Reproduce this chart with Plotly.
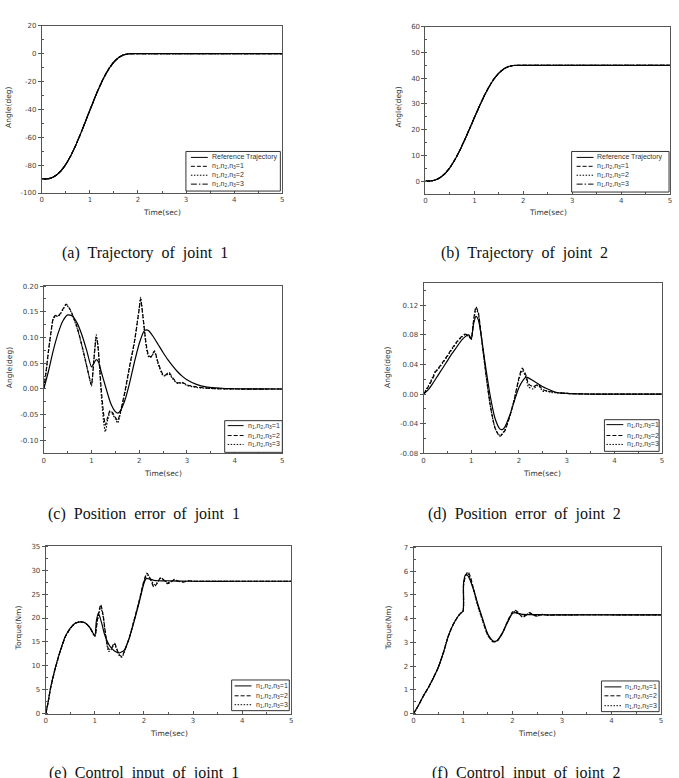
import plotly.graph_objects as go

W, H = 679, 778

# ---------------- data ----------------
# (a)/(b) trajectories (the three controlled responses overlap the reference)
traj_t = [0, 0.1, 0.2, 0.3, 0.4, 0.5, 0.6, 0.7, 0.8, 0.9, 1.0, 1.1, 1.2, 1.3, 1.4,
          1.5, 1.6, 1.7, 1.8, 1.9, 2.0, 3.0, 4.0, 5.0]
joint1_ref = [-90, -89.9, -89.1, -87.2, -84.0, -79.4, -73.4, -66.2, -58.1, -49.4, -40.6,
              -31.9, -23.8, -16.6, -10.6, -6.0, -2.8, -0.9, -0.1, 0, 0, 0, 0, 0]
joint1_n1 = joint1_ref
joint1_n2 = joint1_ref
joint1_n3 = joint1_ref
joint2_ref = [0, 0.06, 0.45, 1.38, 2.98, 5.3, 8.3, 11.9, 16.0, 20.3, 24.7, 29.0, 33.1,
              36.7, 39.7, 42.0, 43.6, 44.55, 44.94, 45, 45, 45, 45, 45]
joint2_n1 = joint2_ref
joint2_n2 = joint2_ref
joint2_n3 = joint2_ref

# (c) position error joint 1
e1_t1 = [0, 0.1, 0.2, 0.3, 0.4, 0.5, 0.6, 0.7, 0.8, 0.9, 1.0, 1.05, 1.1, 1.15, 1.2, 1.3,
         1.4, 1.5, 1.55, 1.6, 1.7, 1.8, 1.9, 2.0, 2.1, 2.15, 2.2, 2.3, 2.4, 2.5, 2.6, 2.7,
         2.8, 2.9, 3.0, 3.2, 3.4, 3.6, 3.8, 4.0, 4.5, 5.0]
e1_n1 = [0, 0.035, 0.075, 0.108, 0.132, 0.144, 0.142, 0.128, 0.105, 0.075, 0.043, 0.050,
         0.057, 0.052, 0.035, 0.003, -0.027, -0.044, -0.047, -0.043, -0.022, 0.012, 0.052,
         0.088, 0.112, 0.115, 0.113, 0.101, 0.086, 0.071, 0.057, 0.045, 0.034, 0.025,
         0.018, 0.009, 0.004, 0.002, 0.001, 0.0005, 0.0001, 0]
e1_t2 = [0, 0.05, 0.1, 0.15, 0.2, 0.25, 0.3, 0.35, 0.4, 0.47, 0.55, 0.6, 0.7, 0.8, 0.9,
         0.95, 1.0, 1.05, 1.1, 1.13, 1.17, 1.2, 1.25, 1.29, 1.34, 1.39, 1.45, 1.5, 1.55,
         1.6, 1.7, 1.8, 1.9, 2.0, 2.03, 2.08, 2.15, 2.2, 2.25, 2.32, 2.4, 2.5, 2.55, 2.62,
         2.7, 2.8, 2.9, 3.0, 3.2, 3.5, 4.0, 5.0]
e1_n2 = [0, 0.035, 0.075, 0.11, 0.138, 0.143, 0.142, 0.147, 0.155, 0.165, 0.155, 0.145,
         0.12, 0.085, 0.045, 0.025, 0.008, 0.055, 0.1, 0.088, 0.045, 0.005, -0.045, -0.07,
         -0.055, -0.042, -0.047, -0.055, -0.061, -0.047, -0.005, 0.045, 0.092, 0.155,
         0.175, 0.14, 0.085, 0.065, 0.063, 0.074, 0.05, 0.028, 0.027, 0.033, 0.022, 0.012,
         0.013, 0.008, 0.004, 0.001, 0, 0]
e1_t3 = e1_t2
e1_n3 = [0, 0.034, 0.073, 0.108, 0.136, 0.142, 0.141, 0.146, 0.154, 0.164, 0.154, 0.144,
         0.118, 0.083, 0.044, 0.024, 0.006, 0.058, 0.105, 0.09, 0.04, -0.005, -0.06, -0.083,
         -0.06, -0.045, -0.05, -0.058, -0.066, -0.05, -0.008, 0.043, 0.09, 0.157, 0.178,
         0.14, 0.08, 0.062, 0.062, 0.072, 0.048, 0.026, 0.026, 0.03, 0.02, 0.011, 0.012,
         0.007, 0.003, 0.001, 0, 0]

# (d) position error joint 2
e2_t1 = [0, 0.1, 0.2, 0.3, 0.4, 0.5, 0.6, 0.7, 0.8, 0.9, 0.95, 1.0, 1.05, 1.1, 1.15, 1.2,
         1.3, 1.4, 1.5, 1.6, 1.65, 1.7, 1.8, 1.9, 2.0, 2.1, 2.15, 2.2, 2.3, 2.4, 2.5, 2.6,
         2.7, 2.8, 3.0, 3.3, 3.6, 4.0, 5.0]
e2_n1 = [0, 0.006, 0.015, 0.025, 0.035, 0.045, 0.055, 0.064, 0.073, 0.079, 0.08, 0.074,
         0.095, 0.105, 0.1, 0.083, 0.038, -0.003, -0.033, -0.047, -0.048, -0.045, -0.03,
         -0.01, 0.009, 0.02, 0.023, 0.022, 0.018, 0.014, 0.010, 0.007, 0.004, 0.002,
         0.001, 0.0003, 0.0001, 0, 0]
e2_t2 = [0, 0.1, 0.2, 0.25, 0.3, 0.4, 0.5, 0.6, 0.7, 0.8, 0.87, 0.95, 1.0, 1.05, 1.1,
         1.15, 1.2, 1.3, 1.4, 1.5, 1.6, 1.7, 1.8, 1.9, 2.0, 2.07, 2.15, 2.2, 2.3, 2.4,
         2.5, 2.6, 2.7, 2.8, 3.0, 3.5, 5.0]
e2_n2 = [0, 0.01, 0.022, 0.03, 0.034, 0.043, 0.052, 0.062, 0.071, 0.078, 0.081, 0.079,
         0.075, 0.1, 0.118, 0.11, 0.085, 0.032, -0.015, -0.046, -0.057, -0.05, -0.032,
         -0.008, 0.022, 0.035, 0.025, 0.014, 0.01, 0.013, 0.006, 0.004, 0.003, 0.002,
         0.001, 0, 0]
e2_t3 = e2_t2
e2_n3 = [0, 0.011, 0.024, 0.031, 0.033, 0.042, 0.051, 0.061, 0.07, 0.077, 0.08, 0.078,
         0.074, 0.098, 0.115, 0.108, 0.083, 0.03, -0.016, -0.046, -0.056, -0.049, -0.031,
         -0.008, 0.02, 0.032, 0.022, 0.01, 0.007, 0.012, 0.004, 0.004, 0.002, 0.002,
         0.001, 0, 0]

# (e) control input joint 1
u1_t1 = [0, 0.05, 0.1, 0.2, 0.3, 0.4, 0.5, 0.6, 0.7, 0.8, 0.9, 1.0, 1.03, 1.07, 1.1,
         1.15, 1.2, 1.3, 1.4, 1.5, 1.6, 1.7, 1.8, 1.9, 2.0, 2.05, 2.1, 2.2, 2.3, 2.5,
         3.0, 4.0, 5.0]
u1_n1 = [0, 2.5, 5.5, 9.8, 13.3, 16.2, 17.9, 18.9, 19.2, 19.0, 18.0, 16.3, 19.3, 21.0,
         20.3, 18.5, 16.5, 14.2, 13.1, 12.7, 13.3, 15.8, 19.3, 23.2, 27.3, 28.3, 28.2,
         27.9, 27.8, 27.8, 27.7, 27.7, 27.7]
u1_t2 = [0, 0.05, 0.1, 0.2, 0.3, 0.4, 0.5, 0.6, 0.7, 0.8, 0.9, 1.0, 1.05, 1.12, 1.17,
         1.22, 1.28, 1.33, 1.4, 1.45, 1.5, 1.55, 1.6, 1.7, 1.8, 1.9, 2.0, 2.06, 2.13, 2.2,
         2.27, 2.34, 2.41, 2.48, 2.55, 2.62, 2.7, 2.8, 2.9, 3.0, 3.5, 5.0]
u1_n2 = [0, 2.4, 5.4, 9.7, 13.2, 16.1, 17.8, 18.9, 19.2, 19.0, 18.0, 16.2, 19.5, 22.8,
         20.5, 16.5, 13.5, 13.6, 14.8, 13.5, 12.3, 12.0, 13.0, 15.8, 19.6, 23.5, 27.8,
         29.4, 28.2, 26.5, 27.3, 28.5, 27.9, 27.2, 27.5, 28.1, 27.7, 27.5, 27.8, 27.7,
         27.7, 27.7]
u1_t3 = u1_t2
u1_n3 = [0, 2.4, 5.4, 9.7, 13.2, 16.1, 17.8, 18.9, 19.2, 19.0, 18.0, 16.2, 19.4, 22.3,
         20.2, 16.3, 13.0, 13.4, 14.5, 13.3, 12.1, 11.8, 12.9, 15.8, 19.6, 23.4, 27.6,
         29.0, 28.3, 27.0, 27.4, 28.3, 27.9, 27.4, 27.6, 28.0, 27.7, 27.6, 27.8, 27.7,
         27.7, 27.7]

# (f) control input joint 2
u2_t1 = [0, 0.1, 0.2, 0.3, 0.4, 0.5, 0.6, 0.7, 0.8, 0.9, 0.95, 1.0, 1.01, 1.05, 1.1,
         1.2, 1.3, 1.4, 1.5, 1.6, 1.65, 1.7, 1.8, 1.9, 2.0, 2.05, 2.1, 2.2, 2.4, 2.7,
         3.0, 4.0, 5.0]
u2_n1 = [0, 0.35, 0.75, 1.1, 1.5, 1.95, 2.55, 3.25, 3.75, 4.1, 4.22, 4.32, 5.5, 5.85,
         5.8, 5.3, 4.6, 3.95, 3.35, 3.07, 3.04, 3.1, 3.42, 3.85, 4.22, 4.25, 4.22, 4.18,
         4.17, 4.16, 4.16, 4.16, 4.16]
u2_t2 = [0, 0.1, 0.2, 0.3, 0.4, 0.5, 0.6, 0.7, 0.8, 0.9, 0.95, 1.0, 1.01, 1.05, 1.1,
         1.15, 1.2, 1.3, 1.4, 1.5, 1.6, 1.65, 1.7, 1.8, 1.9, 2.0, 2.05, 2.12, 2.2, 2.28,
         2.35, 2.42, 2.5, 2.6, 2.7, 3.0, 5.0]
u2_n2 = [0, 0.35, 0.75, 1.1, 1.5, 1.95, 2.55, 3.25, 3.75, 4.1, 4.22, 4.32, 5.4, 5.8,
         5.97, 5.75, 5.35, 4.55, 3.9, 3.3, 3.03, 3.02, 3.08, 3.4, 3.9, 4.28, 4.35, 4.25,
         4.05, 4.15, 4.25, 4.15, 4.1, 4.18, 4.15, 4.16, 4.16]
u2_t3 = u2_t2
u2_n3 = [0, 0.35, 0.75, 1.1, 1.5, 1.95, 2.55, 3.25, 3.75, 4.1, 4.22, 4.32, 5.45, 5.82,
         5.88, 5.65, 5.3, 4.5, 3.88, 3.3, 3.04, 3.03, 3.09, 3.41, 3.88, 4.26, 4.3, 4.22,
         4.1, 4.17, 4.22, 4.15, 4.12, 4.17, 4.15, 4.16, 4.16]

# tick labels
x_ticks = [0, 1, 2, 3, 4, 5]
x_ticktext = ["0", "1", "2", "3", "4", "5"]
ya_ticks = [-100, -80, -60, -40, -20, 0, 20]
ya_text = ["-100", "-80", "-60", "-40", "-20", "0", "20"]
yb_ticks = [0, 10, 20, 30, 40, 50, 60]
yb_text = ["0", "10", "20", "30", "40", "50", "60"]
yc_ticks = [-0.10, -0.05, 0.00, 0.05, 0.10, 0.15, 0.20]
yc_text = ["-0.10", "-0.05", "0.00", "0.05", "0.10", "0.15", "0.20"]
yd_ticks = [-0.08, -0.04, 0.00, 0.04, 0.08, 0.12]
yd_text = ["-0.08", "-0.04", "0.00", "0.04", "0.08", "0.12"]
ye_ticks = [0, 5, 10, 15, 20, 25, 30, 35]
ye_text = ["0", "5", "10", "15", "20", "25", "30", "35"]
yf_ticks = [0, 1, 2, 3, 4, 5, 6, 7]
yf_text = ["0", "1", "2", "3", "4", "5", "6", "7"]

captions = ["(a)\u00a0 Trajectory\u00a0 of\u00a0 joint\u00a0 1",
            "(b)\u00a0 Trajectory\u00a0 of\u00a0 joint\u00a0 2",
            "(c)\u00a0 Position\u00a0 error\u00a0 of\u00a0 joint\u00a0 1",
            "(d)\u00a0 Position\u00a0 error\u00a0 of\u00a0 joint\u00a0 2",
            "(e)\u00a0 Control\u00a0 input\u00a0 of\u00a0 joint\u00a0 1",
            "(f)\u00a0 Control\u00a0 input\u00a0 of\u00a0 joint\u00a0 2"]
ytitles = ["Angle(deg)", "Angle(deg)", "Angle(deg)", "Angle(deg)", "Torque(Nm)", "Torque(Nm)"]
nlab = ["n<sub>1</sub>,n<sub>2</sub>,n<sub>3</sub>=1",
        "n<sub>1</sub>,n<sub>2</sub>,n<sub>3</sub>=2",
        "n<sub>1</sub>,n<sub>2</sub>,n<sub>3</sub>=3"]

# ---------------- layout geometry (pixels) ----------------
boxes = [(40, 282, 22, 191), (426, 672, 23, 192),
         (42, 282, 285, 454), (424, 664, 282, 454),
         (44, 291, 548, 717), (414, 663, 549, 717)]
yranges = [[-100, 20], [-5, 60], [-0.125, 0.2], [-0.08, 0.15], [0, 35], [0, 7]]
yminor = [10, 5, 0.025, 0.02, 2.5, 0.5]
yticks = [(ya_ticks, ya_text), (yb_ticks, yb_text), (yc_ticks, yc_text),
          (yd_ticks, yd_text), (ye_ticks, ye_text), (yf_ticks, yf_text)]
xtitle_pos = [(161, 211), (549, 211), (162, 474), (543, 474), (168, 737), (538, 737)]
ytitle_pos = [(7, 104), (399, 104), (7, 367), (388, 367), (17, 630), (389, 630)]
caption_pos = [(144, 252), (526, 252), (143, 515), (526, 515), (143, 777), (527, 777)]
legends = [
    ((185, 280, 149, 189), [155, 164, 173, 182], 190, 207, 209),
    ((573, 671, 149, 190), [155, 164, 173, 182], 578, 595, 597),
    ((224, 282, 421, 453), [426, 436, 445], 227, 243, 245),
    ((606, 661, 420, 452), [425, 436, 445], 608, 625, 627),
    ((231, 289, 683, 714), [689, 699, 708], 234, 251, 253),
    ((603, 661, 684, 715), [690, 699, 709], 606, 623, 625),
]

def px(x):
    return x / W

def py(y):
    return 1 - y / H

FRAME = "#555555"
TICKFONT = dict(family="DejaVu Sans", size=7, color="#444444")
LEGFONT = dict(family="Liberation Sans", size=7, color="#333333")
LINE_W = 1.2
DASH = "4px,2px"
DOT = "1.5px,1.5px"
DASHDOT = "6px,2px,1.5px,2px"

fig = go.Figure()

series = [
    [(traj_t, joint1_n3, DASHDOT), (traj_t, joint1_n2, DOT), (traj_t, joint1_n1, DASH), (traj_t, joint1_ref, "solid")],
    [(traj_t, joint2_n3, DASHDOT), (traj_t, joint2_n2, DOT), (traj_t, joint2_n1, DASH), (traj_t, joint2_ref, "solid")],
    [(e1_t3, e1_n3, DOT), (e1_t2, e1_n2, DASH), (e1_t1, e1_n1, "solid")],
    [(e2_t3, e2_n3, DOT), (e2_t2, e2_n2, DASH), (e2_t1, e2_n1, "solid")],
    [(u1_t3, u1_n3, DOT), (u1_t2, u1_n2, DASH), (u1_t1, u1_n1, "solid")],
    [(u2_t3, u2_n3, DOT), (u2_t2, u2_n2, DASH), (u2_t1, u2_n1, "solid")],
]

annotations = []
shapes = []
layout_axes = {}
for i in range(6):
    s = "" if i == 0 else str(i + 1)
    l, r, t, b = boxes[i]
    for xs, ys, dash in series[i]:
        fig.add_trace(go.Scatter(x=xs, y=ys, mode="lines", xaxis="x" + s, yaxis="y" + s,
                                 line=dict(color="black", width=LINE_W, dash=dash,
                                           shape="spline", smoothing=0.6),
                                 showlegend=False, hoverinfo="skip"))
    layout_axes["xaxis" + s] = dict(
        domain=[px(l), px(r)], range=[0, 5], anchor="y" + s,
        tickmode="array", tickvals=x_ticks, ticktext=x_ticktext,
        ticks="inside", ticklen=3, tickcolor=FRAME, tickfont=TICKFONT,
        minor=dict(ticks="inside", ticklen=2, dtick=0.5, tick0=0, tickcolor=FRAME),
        showline=True, linecolor=FRAME, linewidth=1, mirror=True,
        showgrid=False, zeroline=False, fixedrange=True)
    yt, ytt = yticks[i]
    layout_axes["yaxis" + s] = dict(
        domain=[py(b), py(t)], range=yranges[i], anchor="x" + s,
        tickmode="array", tickvals=yt, ticktext=ytt,
        ticks="outside", ticklen=3, tickcolor=FRAME, tickfont=TICKFONT,
        minor=dict(ticks="inside", ticklen=2, dtick=yminor[i], tick0=0, tickcolor=FRAME),
        showline=True, linecolor=FRAME, linewidth=1, mirror=True,
        showgrid=False, zeroline=False, fixedrange=True)

    xt = xtitle_pos[i]
    annotations.append(dict(text="Time(sec)", x=px(xt[0]), y=py(xt[1]), xref="paper", yref="paper",
                            xanchor="center", yanchor="middle", showarrow=False,
                            font=dict(family="DejaVu Sans", size=7.5, color="#333333")))
    ytp = ytitle_pos[i]
    annotations.append(dict(text=ytitles[i], x=px(ytp[0]), y=py(ytp[1]), xref="paper", yref="paper",
                            xanchor="center", yanchor="middle", showarrow=False, textangle=-90,
                            font=dict(family="DejaVu Sans", size=7.5, color="#333333")))
    cp = caption_pos[i]
    annotations.append(dict(text=captions[i], x=px(cp[0]), y=py(cp[1]), xref="paper", yref="paper",
                            xanchor="center", yanchor="middle", showarrow=False,
                            font=dict(family="Liberation Serif", size=16, color="#111111")))

    # legend drawn as a framed key
    (bl, br, bt, bb), rows, sx0, sx1, tx = legends[i]
    shapes.append(dict(type="rect", xref="paper", yref="paper", x0=px(bl), x1=px(br),
                       y0=py(bb), y1=py(bt), line=dict(color="#333333", width=1),
                       fillcolor="white", layer="above"))
    if i < 2:
        names = ["Reference Trajectory"] + nlab
        dashes = ["solid", DASH, DOT, DASHDOT]
    else:
        names = nlab
        dashes = ["solid", DASH, DOT]
    for ry, nm, dsh in zip(rows, names, dashes):
        shapes.append(dict(type="line", xref="paper", yref="paper", x0=px(sx0), x1=px(sx1),
                           y0=py(ry), y1=py(ry), line=dict(color="black", width=1, dash=dsh),
                           layer="above"))
        annotations.append(dict(text=nm, x=px(tx), y=py(ry), xref="paper", yref="paper",
                                xanchor="left", yanchor="middle", showarrow=False,
                                font=LEGFONT))

fig.update_layout(
    width=W, height=H, margin=dict(l=0, r=0, t=0, b=0),
    paper_bgcolor="white", plot_bgcolor="white",
    showlegend=False, annotations=annotations, shapes=shapes,
    **layout_axes)

fig.write_html("out.html")
